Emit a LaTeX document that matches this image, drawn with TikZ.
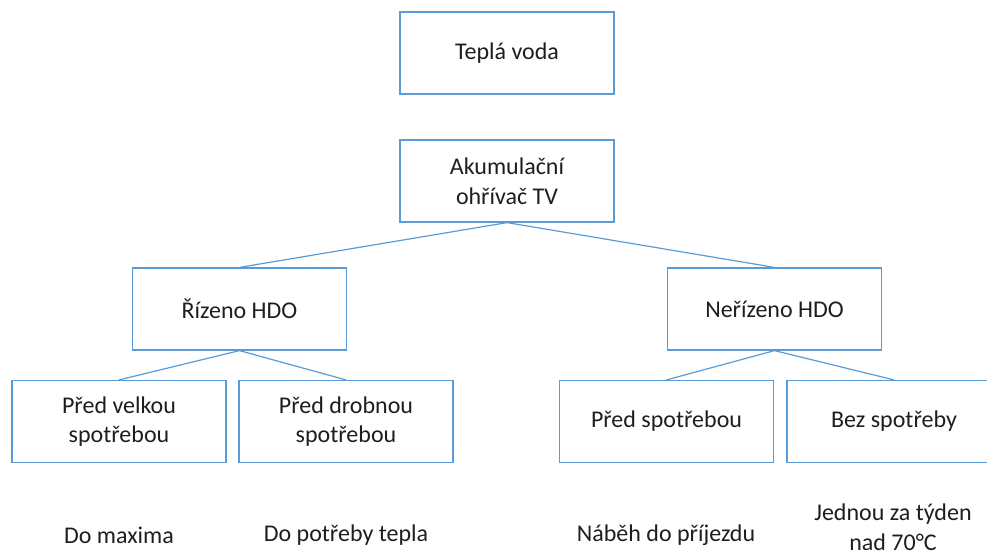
\documentclass[tikz,border=0pt]{standalone}
\usepackage{fontspec}
\setmainfont{Carlito}
\definecolor{boxblue}{RGB}{91,155,213}
\definecolor{txt}{RGB}{30,30,30}
\begin{document}
\begin{tikzpicture}[x=1pt,y=-1pt,
  box/.style={draw=boxblue,line width=1.2pt,rectangle,minimum width=214pt,minimum height=82pt,inner sep=0pt,align=center,text=txt,font=\fontsize{24}{29.5}\selectfont},
  lbl/.style={inner sep=0pt,align=center,text=txt,font=\fontsize{24}{29.5}\selectfont},
  conn/.style={draw=boxblue,line width=1.2pt}]
\useasboundingbox (0,0) rectangle (987,558);
\clip (0,0) rectangle (987,558);
\node[box] (tv) at (507,53) {Teplá voda};
\node[box] (ak) at (507,181) {Akumulační\\ohřívač TV};
\node[box] (ri) at (239.5,309) {Řízeno HDO};
\node[box] (ne) at (774.5,309) {Neřízeno HDO};
\node[box] (pv) at (119,421.5) {Před velkou\\spotřebou};
\node[box] (pd) at (346,421.5) {Před drobnou\\spotřebou};
\node[box] (ps) at (666.5,421.5) {Před spotřebou};
\node[box] (bs) at (894,421.5) {Bez spotřeby};
\node[lbl] (dm) at (119,535) {Do maxima};
\node[lbl] (dp) at (346,535) {Do potřeby tepla};
\node[lbl] (nd) at (666,535) {Náběh do příjezdu};
\node[lbl] (jt) at (893,527) {Jednou za týden\\nad 70°C};
\draw[conn] (ak.south) -- (ri.north);
\draw[conn] (ak.south) -- (ne.north);
\draw[conn] (ri.south) -- (pv.north);
\draw[conn] (ri.south) -- (pd.north);
\draw[conn] (ne.south) -- (ps.north);
\draw[conn] (ne.south) -- (bs.north);
\end{tikzpicture}
\end{document}
